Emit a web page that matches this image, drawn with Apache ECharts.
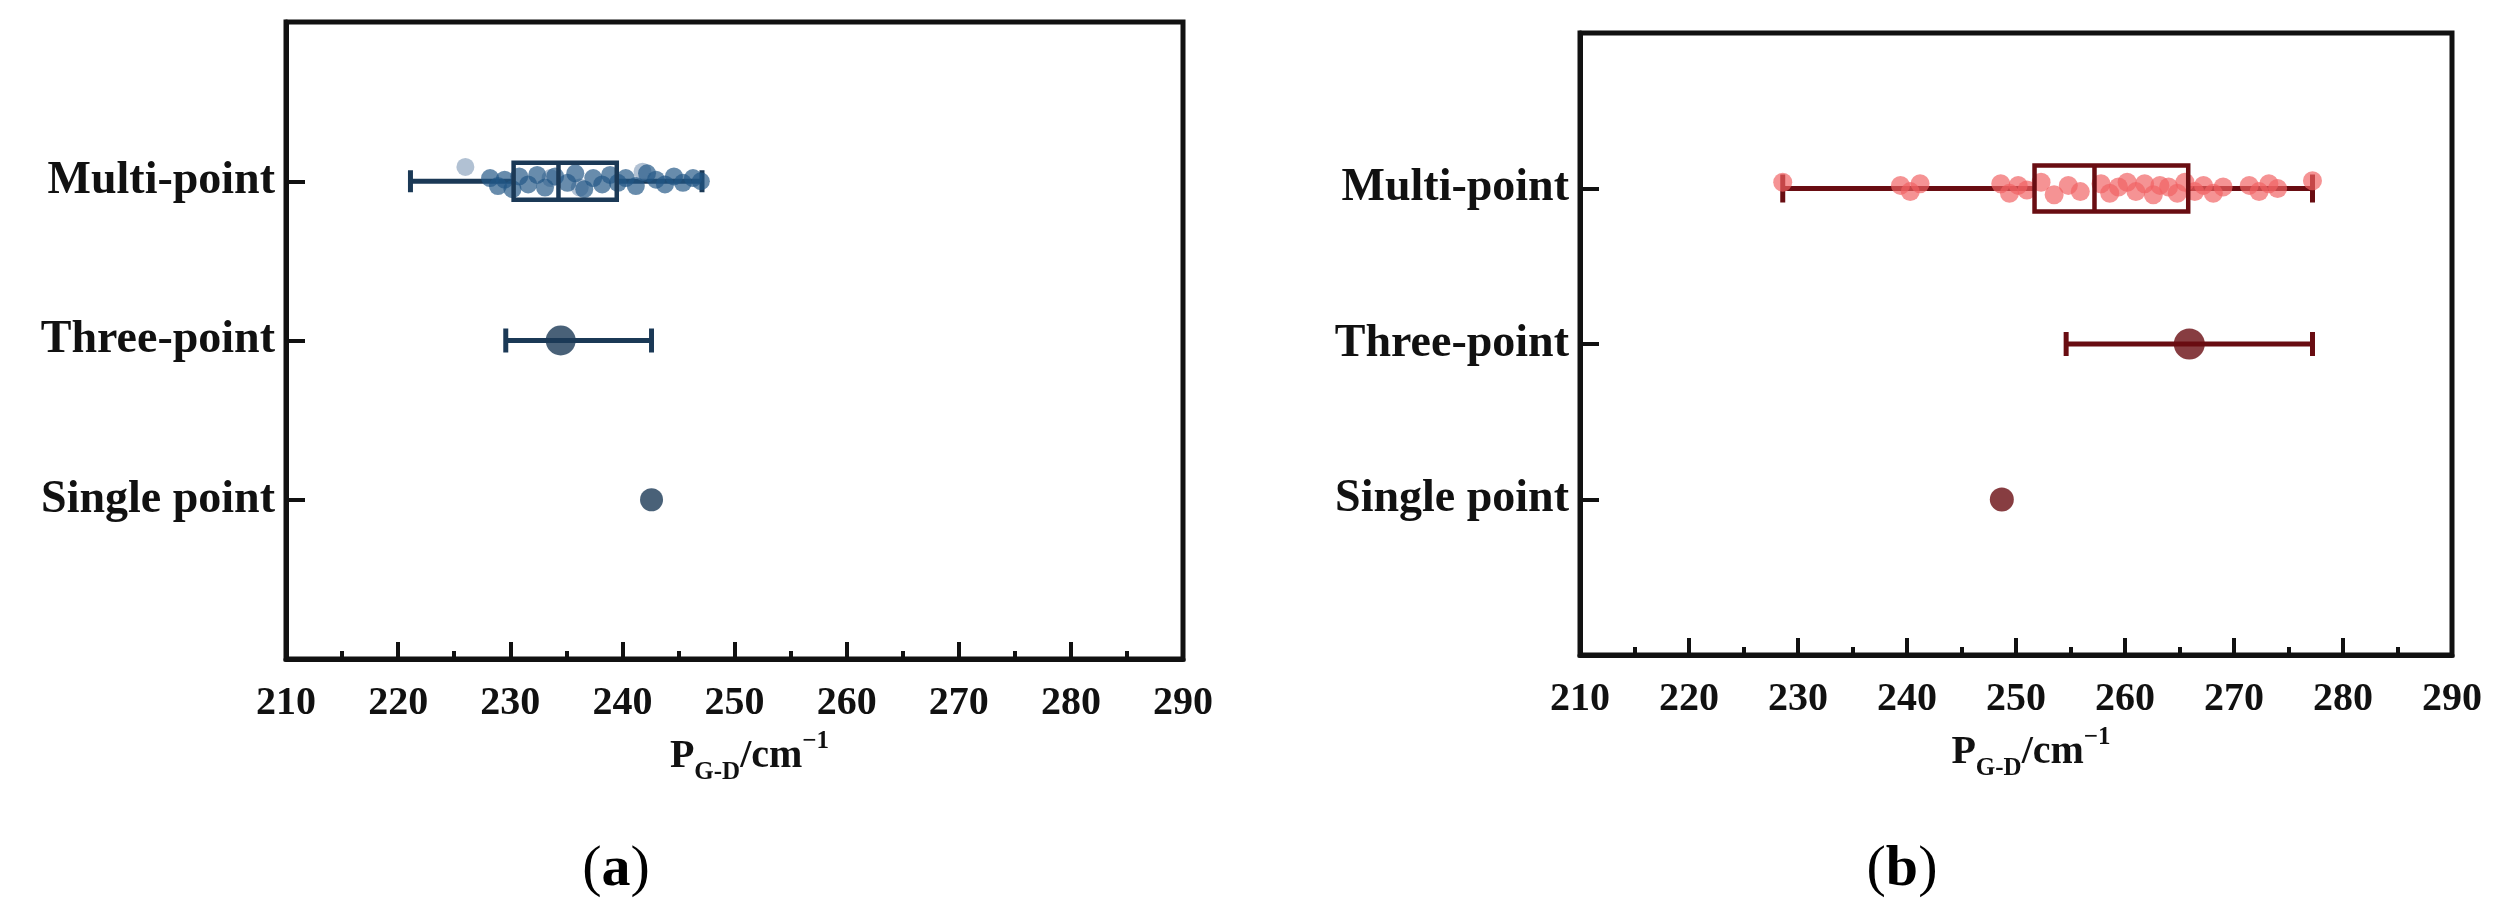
<!DOCTYPE html>
<html>
<head>
<meta charset="utf-8">
<script src="https://cdn.jsdelivr.net/npm/echarts@6/dist/echarts.min.js"></script>
<style>
  html, body { margin: 0; padding: 0; background: #fff; }
  #chart { width: 2513px; height: 915px; }
</style>
</head>
<body>
<div id="chart"></div>
<script>
// categories, bottom to top (y = index + 1)
const categories = ['Single point', 'Three-point', 'Multi-point'];
const xTickLabels = [210, 220, 230, 240, 250, 260, 270, 280, 290];

// (a) blue — box: [min, Q1, median, Q3, max]
const multiBoxA = [221.1, 230.3, 234.3, 239.5, 247.1];
const multiPointsA = [228.2, 228.9, 229.5, 230.2, 230.8, 231.6, 232.4, 233.1, 234.0, 235.1, 235.8, 236.6, 237.4, 238.2, 238.9, 239.6, 240.3, 241.2, 242.2, 243.0, 243.8, 244.6, 245.4, 246.3, 247.0];
const multiJitterA = [0.02, -0.03, 0.01, -0.05, 0.03, -0.02, 0.04, -0.04, 0.03, -0.01, 0.05, -0.05, 0.02, -0.02, 0.04, -0.01, 0.02, -0.03, 0.05, 0.01, -0.02, 0.03, -0.01, 0.02, 0.0];
const multiPointsLightA = [226.0, 233.6, 236.2, 241.8];
const multiJitterLightA = [0.09, 0.02, -0.04, 0.06];
const threeA = [229.6, 234.5, 242.6]; // low, mean, high
const singleA = [242.6];

// (b) red
const multiBoxB = [228.6, 251.7, 257.2, 265.8, 277.2];
const multiPointsB = [228.6, 239.4, 240.3, 241.2, 248.6, 249.4, 250.2, 251.0, 252.3, 253.5, 254.8, 255.9, 257.8, 258.6, 259.4, 260.2, 261.0, 261.8, 262.6, 263.2, 264.0, 264.8, 265.5, 266.4, 267.2, 268.1, 269.0, 271.4, 272.3, 273.2, 274.0, 277.2];
const multiJitterB = [0.04, 0.02, -0.02, 0.03, 0.03, -0.03, 0.02, -0.01, 0.04, -0.04, 0.02, -0.02, 0.03, -0.03, 0.01, 0.04, -0.02, 0.03, -0.04, 0.02, 0.01, -0.03, 0.04, -0.02, 0.02, -0.03, 0.01, 0.02, -0.02, 0.03, 0.0, 0.05];
const threeB = [254.6, 265.9, 277.2];
const singleB = [248.7];

const FONT = "'Liberation Serif', 'Times New Roman', serif";
const yMulti = categories.indexOf('Multi-point') + 1;
const yThree = categories.indexOf('Three-point') + 1;
const ySingle = categories.indexOf('Single point') + 1;

var chart = echarts.init(document.getElementById('chart'));

function whiskerRender(capH, color, lw) {
  return function (params, api) {
    var y = api.value(5);
    var pMin = api.coord([api.value(0), y]);
    var pQ1 = api.coord([api.value(1), y]);
    var pQ3 = api.coord([api.value(3), y]);
    var pMax = api.coord([api.value(4), y]);
    var cy = pMin[1];
    var st = { stroke: color, lineWidth: lw };
    return {
      type: 'group',
      children: [
        { type: 'line', shape: { x1: pMin[0], y1: cy, x2: pQ1[0], y2: cy }, style: st },
        { type: 'line', shape: { x1: pQ3[0], y1: cy, x2: pMax[0], y2: cy }, style: st },
        { type: 'line', shape: { x1: pMin[0], y1: cy - capH, x2: pMin[0], y2: cy + capH }, style: st },
        { type: 'line', shape: { x1: pMax[0], y1: cy - capH, x2: pMax[0], y2: cy + capH }, style: st }
      ]
    };
  };
}

function boxRender(halfH, color, lw) {
  return function (params, api) {
    var y = api.value(5);
    var pQ1 = api.coord([api.value(1), y]);
    var pMed = api.coord([api.value(2), y]);
    var pQ3 = api.coord([api.value(3), y]);
    var cy = pQ1[1];
    var st = { stroke: color, lineWidth: lw, fill: null };
    return {
      type: 'group',
      children: [
        { type: 'rect', shape: { x: pQ1[0], y: cy - halfH, width: pQ3[0] - pQ1[0], height: 2 * halfH }, style: st },
        { type: 'line', shape: { x1: pMed[0], y1: cy - halfH, x2: pMed[0], y2: cy + halfH }, style: st }
      ]
    };
  };
}

function errRender(capH, color, lw) {
  return function (params, api) {
    var y = api.value(2);
    var pL = api.coord([api.value(0), y]);
    var pH = api.coord([api.value(1), y]);
    var cy = pL[1];
    var st = { stroke: color, lineWidth: lw };
    return {
      type: 'group',
      children: [
        { type: 'line', shape: { x1: pL[0], y1: cy, x2: pH[0], y2: cy }, style: st },
        { type: 'line', shape: { x1: pL[0], y1: cy - capH, x2: pL[0], y2: cy + capH }, style: st },
        { type: 'line', shape: { x1: pH[0], y1: cy - capH, x2: pH[0], y2: cy + capH }, style: st }
      ]
    };
  };
}

function makeX(gi) {
  return {
    type: 'value', gridIndex: gi,
    min: xTickLabels[0], max: xTickLabels[xTickLabels.length - 1],
    interval: xTickLabels[1] - xTickLabels[0],
    name: '{a|P}{b|G-D}{a|/cm}{c|−1}',
    nameLocation: 'middle', nameGap: 62,
    nameTextStyle: {
      padding: [0, 0, 0, 30],
      rich: {
        a: { fontFamily: FONT, fontWeight: 'bold', fontSize: 40, color: '#111', lineHeight: 56 },
        b: { fontFamily: FONT, fontWeight: 'bold', fontSize: 25, color: '#111', verticalAlign: 'bottom', lineHeight: 26 },
        c: { fontFamily: FONT, fontWeight: 'bold', fontSize: 25, color: '#111', verticalAlign: 'top', lineHeight: 26 }
      }
    },
    axisLine: { show: true, onZero: false, lineStyle: { color: '#111', width: 5 } },
    axisTick: { show: true, inside: true, length: 17, lineStyle: { color: '#111', width: 4 } },
    minorTick: { show: true, splitNumber: 2, length: 8, lineStyle: { color: '#111', width: 4 } },
    axisLabel: { fontFamily: FONT, fontWeight: 'bold', fontSize: 40, color: '#111', margin: 25, showMinLabel: true, showMaxLabel: true, hideOverlap: false },
    splitLine: { show: false }
  };
}

function makeY(gi) {
  return {
    type: 'value', gridIndex: gi, min: 0, max: categories.length + 1, interval: 1,
    axisLine: { show: true, onZero: false, lineStyle: { color: '#111', width: 5 } },
    axisTick: { show: true, inside: true, length: 19, lineStyle: { color: '#111', width: 4 } },
    axisLabel: {
      fontFamily: FONT, fontWeight: 'bold', fontSize: 46, color: '#111', margin: 11,
      formatter: function (v) { return categories[v - 1] || ''; }
    },
    splitLine: { show: false }
  };
}

function pts(xs, js, y) {
  return xs.map(function (x, i) { return [x, y + js[i]]; });
}

var blue = '#1b3956', red = '#690d12';

var option = {
  backgroundColor: '#fff',
  animation: false,
  grid: [
    { left: 286, right: 2513 - 1183, top: 22, bottom: 915 - 659, show: true, borderColor: '#111', borderWidth: 5, outerBoundsMode: 'none' },
    { left: 1580, right: 2513 - 2452, top: 33, bottom: 915 - 655, show: true, borderColor: '#111', borderWidth: 5, outerBoundsMode: 'none' }
  ],
  xAxis: [makeX(0), makeX(1)],
  yAxis: [makeY(0), makeY(1)],
  graphic: [
    { type: 'text', x: 616, y: 870, style: { text: '{p|(}{l|a}{p|)}', textAlign: 'center', textVerticalAlign: 'middle',
      rich: { p: { fontFamily: FONT, fontSize: 58, color: '#111' }, l: { fontFamily: FONT, fontSize: 58, fontWeight: 'bold', color: '#111' } } } },
    { type: 'text', x: 1902, y: 870, style: { text: '{p|(}{l|b}{p|)}', textAlign: 'center', textVerticalAlign: 'middle',
      rich: { p: { fontFamily: FONT, fontSize: 58, color: '#111' }, l: { fontFamily: FONT, fontSize: 58, fontWeight: 'bold', color: '#111' } } } }
  ],
  series: [
    // (a)
    { type: 'custom', xAxisIndex: 0, yAxisIndex: 0, z: 1, renderItem: whiskerRender(11, blue, 5),
      encode: { x: [0, 1, 2, 3, 4], y: 5 }, data: [multiBoxA.concat([yMulti])] },
    { type: 'scatter', xAxisIndex: 0, yAxisIndex: 0, z: 2, symbolSize: 18,
      itemStyle: { color: 'rgba(140,164,190,0.85)' }, data: pts(multiPointsLightA, multiJitterLightA, yMulti) },
    { type: 'scatter', xAxisIndex: 0, yAxisIndex: 0, z: 2, symbolSize: 18,
      itemStyle: { color: 'rgba(34,86,134,0.85)' }, data: pts(multiPointsA, multiJitterA, yMulti) },
    { type: 'custom', xAxisIndex: 0, yAxisIndex: 0, z: 3, renderItem: boxRender(18.5, blue, 4.5),
      encode: { x: [0, 1, 2, 3, 4], y: 5 }, data: [multiBoxA.concat([yMulti])] },
    { type: 'custom', xAxisIndex: 0, yAxisIndex: 0, z: 1, renderItem: errRender(12, blue, 5),
      encode: { x: [0, 1], y: 2 }, data: [[threeA[0], threeA[2], yThree]] },
    { type: 'scatter', xAxisIndex: 0, yAxisIndex: 0, z: 2, symbolSize: 30,
      itemStyle: { color: blue }, data: [[threeA[1], yThree]] },
    { type: 'scatter', xAxisIndex: 0, yAxisIndex: 0, z: 2, symbolSize: 23,
      itemStyle: { color: blue }, data: singleA.map(function (v) { return [v, ySingle]; }) },
    // (b)
    { type: 'custom', xAxisIndex: 1, yAxisIndex: 1, z: 1, renderItem: whiskerRender(14, red, 5),
      encode: { x: [0, 1, 2, 3, 4], y: 5 }, data: [multiBoxB.concat([yMulti])] },
    { type: 'scatter', xAxisIndex: 1, yAxisIndex: 1, z: 2, symbolSize: 19,
      itemStyle: { color: 'rgba(240,96,98,0.85)' }, data: pts(multiPointsB, multiJitterB, yMulti) },
    { type: 'custom', xAxisIndex: 1, yAxisIndex: 1, z: 3, renderItem: boxRender(23, red, 4.5),
      encode: { x: [0, 1, 2, 3, 4], y: 5 }, data: [multiBoxB.concat([yMulti])] },
    { type: 'custom', xAxisIndex: 1, yAxisIndex: 1, z: 1, renderItem: errRender(12, red, 5),
      encode: { x: [0, 1], y: 2 }, data: [[threeB[0], threeB[2], yThree]] },
    { type: 'scatter', xAxisIndex: 1, yAxisIndex: 1, z: 2, symbolSize: 31,
      itemStyle: { color: red }, data: [[threeB[1], yThree]] },
    { type: 'scatter', xAxisIndex: 1, yAxisIndex: 1, z: 2, symbolSize: 24,
      itemStyle: { color: red }, data: singleB.map(function (v) { return [v, ySingle]; }) }
  ]
};
chart.setOption(option);
</script>
</body>
</html>
